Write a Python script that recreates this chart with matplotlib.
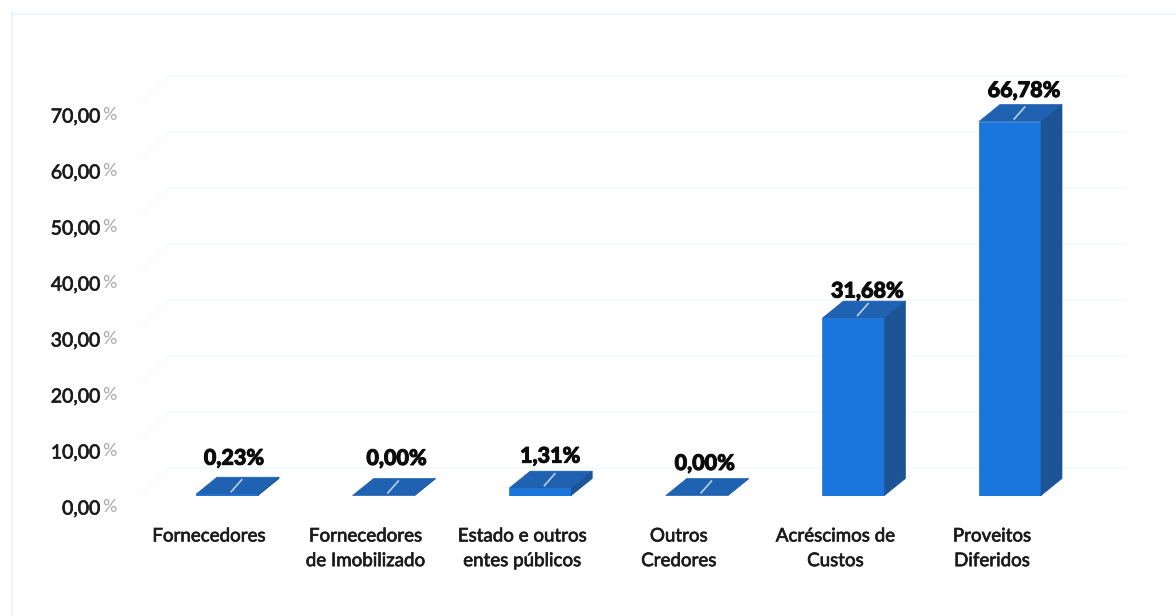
import matplotlib
matplotlib.use("Agg")
import matplotlib.pyplot as plt
import matplotlib.patheffects as pe
from matplotlib.patches import Polygon
from matplotlib.transforms import ScaledTranslation
import numpy as np

categories = ["Fornecedores", "Fornecedores\nde Imobilizado", "Estado e outros\nentes públicos",
              "Outros\nCredores", "Acréscimos de\nCustos", "Proveitos\nDiferidos"]
values = [0.23, 0.00, 1.31, 0.00, 31.68, 66.78]
value_labels = ["0,23%", "0,00%", "1,31%", "0,00%", "31,68%", "66,78%"]
y_ticks = [0, 10, 20, 30, 40, 50, 60, 70]
y_tick_labels = ["0,00", "10,00", "20,00", "30,00", "40,00", "50,00", "60,00", "70,00"]

W, H = 1176, 616
# pixel layout of the plot box
LEFT, RIGHT, TOP, BASE = 120, 1130, 60, 495.5
X0, STEP = 227.0, 156.6
PX_PER_PCT = 5.6

plt.rcParams["font.family"] = ["Lato", "DejaVu Sans"]
fig = plt.figure(figsize=(W / 100, H / 100), dpi=100)
ax = fig.add_axes([LEFT / W, 1 - BASE / H, (RIGHT - LEFT) / W, (BASE - TOP) / H])
ax.set_xlim((LEFT - X0) / STEP, (RIGHT - X0) / STEP)
ax.set_ylim(0, (BASE - TOP) / PX_PER_PCT)
for s in ax.spines.values():
    s.set_visible(False)

bar_w = 62 / STEP
dx = 21 / STEP      # depth of the 3d box
dy = 17 / PX_PER_PCT
FRONT, TOPC, SIDE = "#1a75dc", "#2062b2", "#1c5496"

x = np.arange(len(values))

# faint back wall and left wall grid
for t in y_ticks:
    wall = t + 28 / PX_PER_PCT
    ax.plot([(170 - X0) / STEP, (1125 - X0) / STEP], [wall, wall], color="#f2f8fc", lw=1.2,
            zorder=0, clip_on=False)
    ax.plot([(140 - X0) / STEP, (170 - X0) / STEP], [t, wall], color="#f6fafc", lw=1.0,
            zorder=0, clip_on=False)

# scan border remains
fig.add_artist(plt.Line2D([12 / W, 12 / W], [0, 1 - 12 / H], color="#eaf6fc", lw=1.6))
fig.add_artist(plt.Line2D([12 / W, 1], [1 - 14 / H, 1 - 14 / H], color="#eef6fa", lw=1.4))

ax.bar(x, values, width=bar_w, color=FRONT, edgecolor=FRONT, lw=0.5, zorder=3)
for xi, v in zip(x, values):
    l, r = xi - bar_w / 2, xi + bar_w / 2
    ax.add_patch(Polygon([(l, v), (r, v), (r + dx, v + dy), (l + dx, v + dy)], closed=True,
                         facecolor=TOPC, edgecolor=TOPC, lw=0.5, zorder=4, clip_on=False))
    ax.add_patch(Polygon([(r, 0), (r + dx, dy), (r + dx, v + dy), (r, v)], closed=True,
                         facecolor=SIDE, edgecolor=SIDE, lw=0.5, zorder=4, clip_on=False))
    # little leader line on the top face
    ax.plot([xi + 0.2 * dx, xi + 0.7 * dx], [v + 0.15 * dy, v + 0.85 * dy], color="#b9cfe8",
            lw=1.2, zorder=5, clip_on=False)

heavy = [pe.withStroke(linewidth=0.5, foreground="#1c1c1c")]

# value labels
label_dx = [7, 13, 10, 8, 14, 14]
label_dy = [19, 20, 15, 15, 10, 14]
for xi, v, txt, ox, oy in zip(x, values, value_labels, label_dx, label_dy):
    t = ax.annotate(txt, xy=(xi, v + dy), xytext=(ox, oy), textcoords="offset pixels", ha="center",
                    va="center", fontsize=15.5, fontweight="black", color="#0c0c0c", zorder=6,
                    annotation_clip=False)
    t.set_path_effects([pe.withStroke(linewidth=0.7, foreground="#0c0c0c")])

# x labels sit left of the bars
ax.set_xticks(x)
ax.set_xticklabels(categories, fontsize=13.5, color="#1c1c1c", linespacing=1.55, path_effects=heavy)
ax.tick_params(axis="x", length=0, pad=23)
shift_x = ScaledTranslation(-18 / 100, 0, fig.dpi_scale_trans)
for lbl in ax.get_xticklabels():
    lbl.set_transform(lbl.get_transform() + shift_x)

# y labels are drawn a bit below the front plane, percent sign in grey
ax.set_yticks(y_ticks)
ax.set_yticklabels(y_tick_labels, fontsize=14, color="#1c1c1c", path_effects=heavy)
ax.tick_params(axis="y", length=0, pad=14)
shift_y = ScaledTranslation(0, -12 / 100, fig.dpi_scale_trans)
for lbl in ax.get_yticklabels():
    lbl.set_transform(lbl.get_transform() + shift_y)
for t in y_ticks:
    ax.annotate("%", xy=(0, t), xycoords=ax.get_yaxis_transform(), xytext=(-3, -12),
                textcoords="offset pixels", ha="right", va="center", fontsize=13, color="#a8a8a8",
                annotation_clip=False)

fig.savefig("out.png", dpi=100, facecolor="white")
